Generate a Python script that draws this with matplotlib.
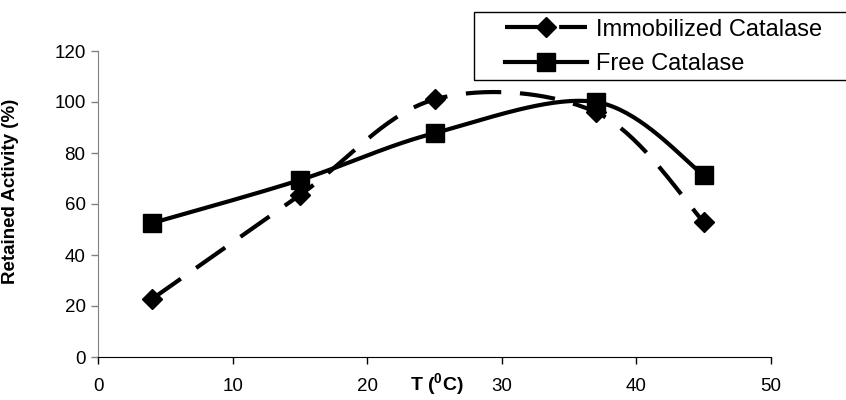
import numpy as np
import matplotlib
matplotlib.use("Agg")
import matplotlib.pyplot as plt
from matplotlib.patches import Rectangle

plt.rcParams['font.family'] = ['Liberation Sans', 'DejaVu Sans']
plt.rcParams['mathtext.fontset'] = 'custom'
plt.rcParams['mathtext.rm'] = 'Liberation Sans'
plt.rcParams['mathtext.bf'] = 'Liberation Sans:bold'

temperature = [4, 15, 25, 37, 45]
immobilized = [22.7, 63.5, 101, 96, 53]
free = [52.5, 69.4, 87.8, 100, 71.4]
series_labels = ["Immobilized Catalase", "Free Catalase"]
x_ticks = [0, 10, 20, 30, 40, 50]
y_ticks = [0, 20, 40, 60, 80, 100, 120]


def smooth(xs, ys, n=40):
    """Excel-style smoothed line (Catmull-Rom Bezier through the points)."""
    P = np.column_stack([xs, ys]).astype(float)
    out = []
    for i in range(len(P) - 1):
        p0 = P[i - 1] if i > 0 else P[i]
        p1, p2 = P[i], P[i + 1]
        p3 = P[i + 2] if i + 2 < len(P) else P[i + 1]
        c1 = p1 + (p2 - p0) / 6.0
        c2 = p2 - (p3 - p1) / 6.0
        t = np.linspace(0, 1, n)[:, None]
        seg = ((1 - t) ** 3) * p1 + 3 * ((1 - t) ** 2) * t * c1 + 3 * (1 - t) * t ** 2 * c2 + t ** 3 * p2
        out.append(seg if i == 0 else seg[1:])
    seg = np.vstack(out)
    return seg[:, 0], seg[:, 1]


fig = plt.figure(figsize=(8.46, 4.0), dpi=100)
ax = fig.add_axes([98 / 846, 1 - 357 / 400, (771 - 98) / 846, (357 - 51) / 400])

sx, sy = smooth(temperature, immobilized)
ax.plot(sx, sy, color='black', lw=3.0, linestyle=(0, (8.5, 4.5)), dash_capstyle='butt', solid_capstyle='butt')
ax.plot(temperature, immobilized, linestyle='none', marker='D', ms=10, color='black')
sx2, sy2 = smooth(temperature, free)
ax.plot(sx2, sy2, color='black', lw=3.0, solid_capstyle='butt')
ax.plot(temperature, free, linestyle='none', marker='s', ms=13, color='black')

# legend frame (extends past the right edge, as in the reference)
fig.patches.append(Rectangle((474 / 846, 1 - 80 / 400), 400 / 846, 68 / 400, transform=fig.transFigure,
                             fill=False, edgecolor='black', linewidth=1.0, zorder=5))
h1, = ax.plot([], [], color='black', lw=3.0, linestyle=(0, (8.5, 4.5)), marker='D', ms=10)
h2, = ax.plot([], [], color='black', lw=3.0, marker='s', ms=13)
leg = fig.legend([h1, h2], series_labels, loc='upper left', bbox_to_anchor=(500 / 846, 1 - 14 / 400),
                 bbox_transform=fig.transFigure, fontsize=17, frameon=False,
                 handlelength=3.5, handletextpad=0.35, borderpad=0.2, labelspacing=0.52,
                 borderaxespad=0)

ax.set_xlim(0, 50)
ax.set_ylim(0, 120)
ax.set_xticks(x_ticks)
ax.set_yticks(y_ticks)
ax.tick_params(labelsize=13.5, length=5, width=1, direction='out')
ax.tick_params(axis='x', pad=10)
ax.tick_params(axis='y', pad=4, color='#808080')
for s in ['top', 'right']:
    ax.spines[s].set_visible(False)
ax.spines['left'].set_color('#808080')
ax.spines['bottom'].set_color('black')

ax.set_ylabel('Retained Activity (%)', fontsize=13.5, fontweight='bold')
ax.yaxis.set_label_coords(-0.118, 0.54)
ax.text(25.2, -10.5, r'T ($\mathbf{^0}$C)', fontsize=14, fontweight='bold', ha='center', va='center')

fig.savefig('out.png', dpi=100)
